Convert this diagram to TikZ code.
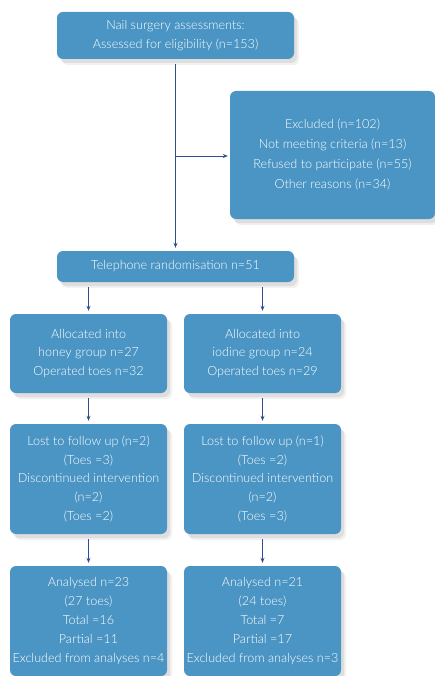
\documentclass[tikz,border=0pt]{standalone}
\usepackage{fontspec}
\setmainfont{Lato}[UprightFont={* Light}]
\usepackage{tikz}
\usetikzlibrary{arrows.meta,shadows}
\definecolor{boxblue}{HTML}{4A95C3}
\definecolor{arrowblue}{HTML}{2F4E8E}
\tikzstyle{stepbox}=[rectangle,rounded corners=6pt,fill=boxblue,text=white!92,align=center,
  font=\fontsize{12.6}{18.8}\selectfont,inner sep=0pt,
  drop shadow={shadow xshift=5pt,shadow yshift=-6pt,fill=black!45,opacity=0.12},
  drop shadow={shadow xshift=3pt,shadow yshift=-4pt,fill=black!45,opacity=0.18}]
\tikzstyle{arr}=[draw=arrowblue,line width=0.8pt,-{Stealth[length=5pt,width=4pt]},shorten <=5pt,shorten >=3pt]
\tikzstyle{thickarr}=[arr,line width=1.4pt]

\begin{document}
\begin{tikzpicture}[x=1pt,y=-1pt]
    \useasboundingbox[fill=white] (0,0) rectangle (435,676);
    \node[stepbox,minimum width=237pt,minimum height=47pt] (Assess) at (175.5,35.5)
        {Nail surgery assessments:\\Assessed for eligibility (n=153)};
    \node[stepbox,minimum width=205pt,minimum height=128pt,font=\fontsize{12.6}{20}\selectfont] (Excl) at (332.5,155)
        {Excluded (n=102)\\Not meeting criteria (n=13)\\Refused to participate (n=55)\\Other reasons (n=34)};
    \node[stepbox,minimum width=237pt,minimum height=31pt] (Tel) at (175.5,266.5)
        {Telephone randomisation n=51};
    % allocation
    \node[stepbox,minimum width=157pt,minimum height=79pt] (HoneyAlloc) at (88.5,353.5)
        {Allocated into\\honey group n=27\\Operated toes n=32};
    \node[stepbox,minimum width=157pt,minimum height=79pt] (IodAlloc) at (262.5,353.5)
        {Allocated into\\iodine group n=24\\Operated toes n=29};
    % follow up
    \node[stepbox,minimum width=157pt,minimum height=110pt] (HoneyLost) at (88.5,479)
        {Lost to follow up (n=2)\\(Toes =3)\\Discontinued intervention\\(n=2)\\(Toes =2)};
    \node[stepbox,minimum width=157pt,minimum height=110pt] (IodLost) at (262.5,479)
        {Lost to follow up (n=1)\\(Toes =2)\\Discontinued intervention\\(n=2)\\(Toes =3)};
    % analysis
    \node[stepbox,minimum width=157pt,minimum height=110pt] (HoneyAn) at (88.5,621)
        {Analysed n=23\\(27 toes)\\Total =16\\Partial =11\\Excluded from analyses n=4};
    \node[stepbox,minimum width=157pt,minimum height=110pt] (IodAn) at (262.5,621)
        {Analysed n=21\\(24 toes)\\Total =7\\Partial =17\\Excluded from analyses n=3};

    \coordinate (Split) at (175.5,156);
    \draw[arr] (Assess.south) -- (Tel.north);
    \draw[arr,shorten <=0pt,shorten >=2pt] (Split) -- (Split -| Excl.west);
    \draw[arr] (Tel.south -| HoneyAlloc.north) -- (HoneyAlloc.north);
    \draw[arr] (Tel.south -| IodAlloc.north) -- (IodAlloc.north);
    \draw[arr] (HoneyAlloc.south) -- (HoneyLost.north);
    \draw[arr] (IodAlloc.south) -- (IodLost.north);
    \draw[thickarr] (HoneyLost.south) -- (HoneyAn.north);
    \draw[thickarr] (IodLost.south) -- (IodAn.north);
\end{tikzpicture}
\end{document}
